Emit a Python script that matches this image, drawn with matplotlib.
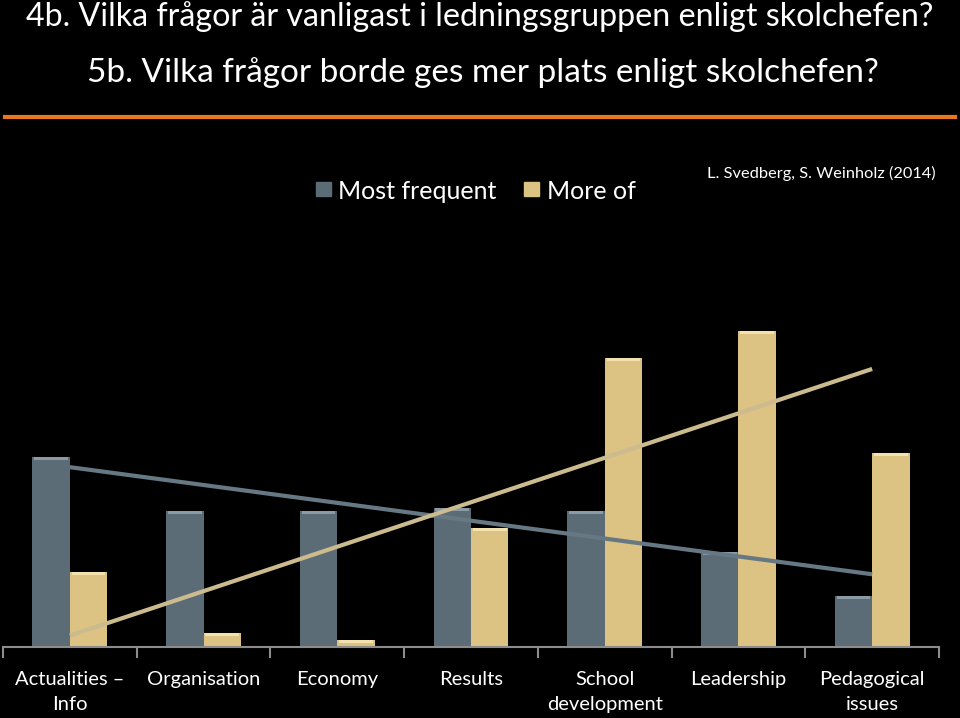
import matplotlib.pyplot as plt
import numpy as np

plt.rcParams['font.family'] = ['Lato', 'DejaVu Sans']

# data
categories = ["Actualities –\nInfo", "Organisation", "Economy", "Results",
              "School\ndevelopment", "Leadership", "Pedagogical\nissues"]
most_frequent = [28, 20, 20, 20.5, 20, 14, 7.5]
more_of = [11, 2, 1, 17.5, 42.5, 46.5, 28.5]
title1 = "4b. Vilka frågor är vanligast i ledningsgruppen enligt skolchefen?"
title2 = "5b. Vilka frågor borde ges mer plats enligt skolchefen?"
source = "L. Svedberg, S. Weinholz (2014)"

BLUE = "#5b6c77"
GOLD = "#dcc283"
BLUE_LINE = "#667884"
GOLD_LINE = "#cbbb8f"
W, H = 960, 718


def px(x, y):
    # pixel position -> figure fraction
    return x / W, 1 - y / H


fig = plt.figure(figsize=(9.6, 7.18), dpi=100, facecolor="black")

# axes: left 3px, right 939px, baseline 647px, top 215px
ax = fig.add_axes([3 / W, (H - 647) / H, 936 / W, 432 / H])
ax.set_facecolor("black")

x = np.arange(len(categories))
bw = 0.28
ax.bar(x - bw / 2, most_frequent, bw, color=BLUE, zorder=2)
ax.bar(x + bw / 2, more_of, bw, color=GOLD, zorder=2)
# light caps on the bars
ax.bar(x - bw / 2, 0.45, bw * 0.9, bottom=np.array(most_frequent) - 0.45,
       color="#8a9ba6", zorder=3)
ax.bar(x + bw / 2, 0.45, bw * 0.9, bottom=np.array(more_of) - 0.45,
       color="#f3e2ae", zorder=3)

# linear trend lines (as in Excel)
t = np.arange(1, len(categories) + 1)
for vals, col in [(most_frequent, BLUE_LINE), (more_of, GOLD_LINE)]:
    k, m = np.polyfit(t, vals, 1)
    ax.plot(x, k * t + m, color=col, lw=3, zorder=4, solid_capstyle="butt")

ax.set_xlim(-0.5, len(categories) - 0.5)
ax.set_ylim(0, 432 / 6.8)
ax.set_yticks([])
for s in ["top", "right", "left"]:
    ax.spines[s].set_visible(False)
ax.spines["bottom"].set_color("#8c8c8c")
ax.spines["bottom"].set_linewidth(1.5)
ax.set_xticks(x)
ax.set_xticklabels(categories, color="white", fontsize=14.5, linespacing=1.6)
ax.tick_params(axis="x", which="major", length=0, pad=17)
ax.set_xticks(np.arange(-0.5, len(categories)), minor=True)
ax.tick_params(axis="x", which="minor", length=8, width=1.5, color="#8c8c8c")

# titles
fig.text(*px(480, 26), title1, color="white", fontsize=23.2, ha="center", va="baseline")
fig.text(*px(483, 82), title2, color="white", fontsize=24, ha="center", va="baseline")
fig.add_artist(plt.Line2D([5 / W, 955 / W], [1 - 117 / H] * 2, color="#e87722", lw=3))

# legend
fig.patches.append(plt.Rectangle(px(316, 196), 15 / W, 14 / H, color=BLUE,
                                 transform=fig.transFigure, figure=fig))
fig.text(*px(338, 199), "Most frequent", color="white", fontsize=18, va="baseline")
fig.patches.append(plt.Rectangle(px(524, 196), 15 / W, 14 / H, color=GOLD,
                                 transform=fig.transFigure, figure=fig))
fig.text(*px(547, 199), "More of", color="white", fontsize=18, va="baseline")
fig.text(*px(707, 178), source, color="white", fontsize=11.8, va="baseline")

fig.savefig("out.png", dpi=100, facecolor="black")
